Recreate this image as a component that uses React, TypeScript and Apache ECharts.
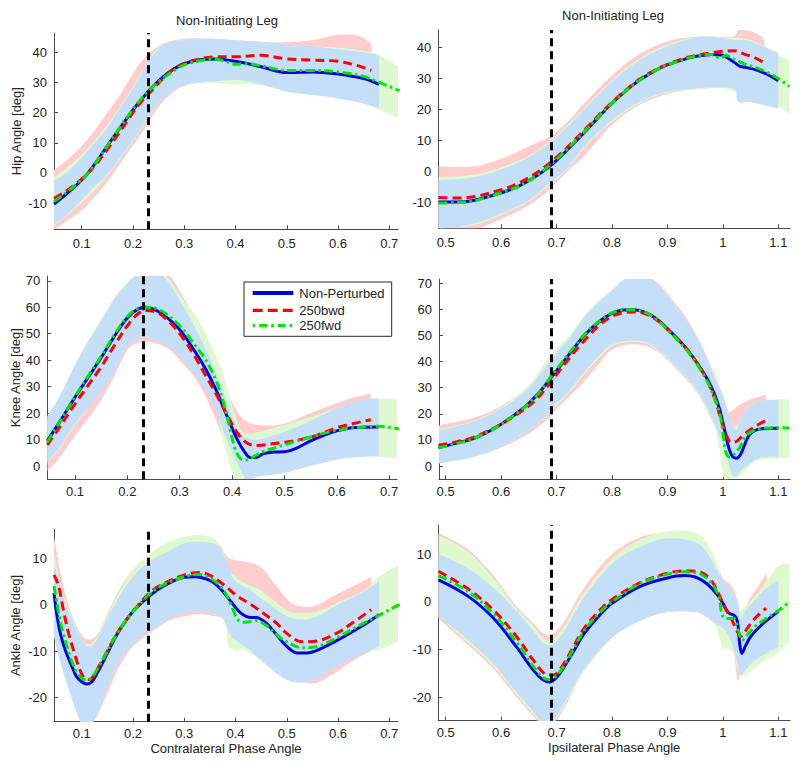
import React, { useEffect, useRef } from "react";
import * as echarts from "echarts";

type Pt = [number, number];
type Band = [number, number, number]; // [phase, lower, upper]

// ---------- tick labels ----------
const contraTicks = [0.1, 0.2, 0.3, 0.4, 0.5, 0.6, 0.7];
const ipsiTicks = [0.5, 0.6, 0.7, 0.8, 0.9, 1.0, 1.1];
const hipTicks = [-10, 0, 10, 20, 30, 40];
const kneeTicks = [0, 10, 20, 30, 40, 50, 60, 70];
const ankleTicks = [-20, -10, 0, 10];

const contraDivide = 0.235;
const ipsiDivide = 0.687;

const legendNames = ["Non-Perturbed", "250bwd", "250fwd"];

// ---------- Hip, contralateral ----------
const hipContraNP: Pt[] = [[0.046,-10.3],[0.07,-7],[0.09,-4],[0.11,-0.5],[0.13,4],[0.15,9],[0.17,13.8],[0.19,18.5],[0.21,23],[0.235,28],[0.26,32],[0.28,34.5],[0.3,36.2],[0.33,37.5],[0.36,37.8],[0.4,37],[0.45,35.2],[0.5,33.3],[0.55,33.5],[0.6,32.8],[0.65,31.3],[0.68,29.4]];
const hipContraBWD: Pt[] = [[0.046,-8.5],[0.07,-6],[0.09,-3.5],[0.11,-0.5],[0.13,3.3],[0.15,7.8],[0.17,12.5],[0.19,17.5],[0.21,22.3],[0.235,27],[0.26,31.5],[0.28,34.5],[0.3,36.3],[0.33,37.8],[0.36,38.5],[0.4,38.5],[0.45,39],[0.5,37.8],[0.55,37.4],[0.6,37],[0.64,35.5],[0.665,34]];
const hipContraFWD: Pt[] = [[0.046,-9.5],[0.07,-6.5],[0.09,-3.8],[0.11,-0.5],[0.13,4],[0.15,9],[0.17,14],[0.19,18.8],[0.21,23.3],[0.235,28],[0.26,31.5],[0.28,34],[0.3,35.8],[0.33,37.2],[0.36,37.8],[0.38,37],[0.4,36],[0.42,36.2],[0.45,35.5],[0.5,34],[0.55,34],[0.6,33.5],[0.65,32],[0.68,30],[0.72,27.3]];
const hipContraNPBand: Band[] = [[0.046,-17,-2.5],[0.07,-14,0],[0.1,-9,5],[0.125,-4.5,10],[0.15,-0.5,15],[0.175,5,21.5],[0.2,10.8,28],[0.22,16,34],[0.235,19.7,38],[0.26,25,42.5],[0.3,29,44],[0.35,30.2,44.5],[0.4,30.8,44],[0.45,29.5,43.5],[0.5,27,42.5],[0.55,25.8,42],[0.6,24.7,41],[0.65,23,40],[0.68,21.4,39]];
const hipContraBWDBand: Band[] = [[0.046,-19,1],[0.07,-16,4],[0.1,-12.5,9],[0.125,-8,14],[0.15,-3,20],[0.175,3,26],[0.2,9,33],[0.22,14,37.5],[0.235,18,40],[0.26,24,43],[0.3,29,44.5],[0.35,30.5,44.5],[0.4,31,44],[0.45,30,43.5],[0.5,28,43.3],[0.55,27,44],[0.6,26.5,45.8],[0.64,26,45.5],[0.665,26,43]];
const hipContraFWDBand: Band[] = [[0.046,-17.5,-1.5],[0.1,-10,6],[0.15,-1,16],[0.2,10.5,28.5],[0.235,19.5,38.5],[0.26,25,42.5],[0.3,29,44],[0.35,30,44],[0.38,29.5,43.5],[0.4,29.3,43],[0.45,29,43],[0.5,27,42.5],[0.55,26,42],[0.6,25,41.5],[0.65,23,40.5],[0.68,21,39],[0.72,18,35]];

// ---------- Hip, ipsilateral ----------
const hipIpsiNP: Pt[] = [[0.487,-10],[0.52,-10],[0.55,-9.5],[0.6,-7],[0.63,-5],[0.66,-2],[0.687,1.5],[0.7,3.5],[0.72,7],[0.75,12.5],[0.78,18.3],[0.8,22],[0.83,26.8],[0.85,29.5],[0.88,32.8],[0.9,34.4],[0.93,36.2],[0.95,37.1],[0.98,37.8],[1.0,37.5],[1.01,36.5],[1.02,35.3],[1.03,34],[1.04,33.6],[1.06,32.8],[1.08,31.3],[1.1,29.3]];
const hipIpsiBWD: Pt[] = [[0.487,-8.5],[0.52,-8.7],[0.55,-8.3],[0.6,-6],[0.63,-4],[0.66,-1],[0.687,2.5],[0.7,4.5],[0.72,7.8],[0.75,13.3],[0.78,18.8],[0.8,22.3],[0.83,27],[0.85,29.8],[0.88,33],[0.9,34.6],[0.93,36.5],[0.95,37.4],[0.98,38.3],[1.0,38.8],[1.02,39],[1.04,37.8],[1.06,36.5],[1.075,35]];
const hipIpsiFWD: Pt[] = [[0.487,-10.3],[0.52,-10.2],[0.55,-9.6],[0.6,-7],[0.63,-5],[0.66,-2],[0.687,1.8],[0.7,3.8],[0.72,7.3],[0.75,12.8],[0.78,18.4],[0.8,22],[0.83,26.8],[0.85,29.5],[0.88,32.8],[0.9,34.4],[0.93,36.2],[0.95,37.2],[0.98,37.8],[0.995,36.5],[1.005,37.5],[1.02,36.3],[1.04,34.6],[1.06,33.5],[1.08,32],[1.1,30],[1.12,27.4]];
const hipIpsiNPBand: Band[] = [[0.487,-19,-3],[0.55,-17,-2],[0.6,-13.7,0.5],[0.65,-9.4,4.5],[0.687,-4,9],[0.72,1,14.5],[0.75,8,20],[0.8,16.6,29],[0.85,22.5,36],[0.9,25.7,40.5],[0.95,26.8,43.3],[0.98,27,43.5],[1.0,27,43],[1.022,26.3,42.5],[1.027,22.5,42.5],[1.05,22.3,42],[1.1,20.3,38.3]];
const hipIpsiBWDBand: Band[] = [[0.487,-20,1.5],[0.55,-19,1.5],[0.6,-15.5,4],[0.65,-11,8],[0.687,-6,11.2],[0.72,0,16],[0.75,5,22],[0.8,15,31],[0.85,21.5,38],[0.9,25,42],[0.95,26.5,43.5],[1.0,27,43.5],[1.02,27,43.7],[1.03,27,45.8],[1.05,27,45.3],[1.07,27,43.5],[1.075,27,42]];
const hipIpsiFWDBand: Band[] = [[0.487,-18.5,-2],[0.55,-17.5,-1.2],[0.6,-14.2,1.2],[0.65,-9.8,5],[0.687,-4.5,9.5],[0.72,0.5,15],[0.75,7.5,20.5],[0.8,16,29.5],[0.85,22,36.5],[0.9,25.5,41],[0.95,26.5,43.3],[1.0,26.8,43.3],[1.05,24,42.5],[1.1,21,37.5],[1.12,18.5,35.8]];

// ---------- Knee, contralateral ----------
const kneeContraNP: Pt[] = [[0.047,9.5],[0.07,16.5],[0.1,26],[0.125,33.5],[0.15,41],[0.175,49],[0.2,56],[0.22,59.3],[0.235,60],[0.25,59.3],[0.27,57],[0.3,51.5],[0.33,43],[0.35,36.5],[0.37,28.5],[0.39,19],[0.41,10],[0.425,5],[0.435,3.2],[0.445,3.2],[0.46,4.7],[0.48,5.3],[0.5,5.4],[0.52,6.5],[0.55,9.5],[0.58,12],[0.6,13.3],[0.63,14.5],[0.68,14.8]];
const kneeContraBWD: Pt[] = [[0.047,8],[0.07,14.5],[0.1,23.5],[0.125,30.5],[0.15,37.5],[0.175,45.5],[0.2,53],[0.22,57.5],[0.235,58.8],[0.25,58.5],[0.27,56.3],[0.3,50],[0.33,41],[0.35,34],[0.37,27],[0.39,19.5],[0.41,12.5],[0.43,8.5],[0.45,7.8],[0.48,8.5],[0.5,9],[0.53,10],[0.56,11.5],[0.6,14.5],[0.63,16],[0.665,17.5]];
const kneeContraFWD: Pt[] = [[0.047,9],[0.07,16.5],[0.1,26.3],[0.125,34],[0.15,41.5],[0.175,49.5],[0.2,56.5],[0.22,59.5],[0.235,60],[0.25,59.8],[0.27,58],[0.3,53],[0.33,45.5],[0.35,40],[0.37,32],[0.385,23],[0.395,15],[0.405,7],[0.415,3],[0.425,2.2],[0.44,3.5],[0.46,5.5],[0.5,8],[0.55,11],[0.6,13.5],[0.65,14.8],[0.68,15],[0.72,14]];
const kneeContraNPBand: Band[] = [[0.047,1.5,18.5],[0.07,7,26],[0.1,16,38],[0.125,22,47],[0.15,28,55],[0.175,36,63],[0.2,45,69],[0.22,48,72.5],[0.235,48.5,73],[0.26,47,73],[0.28,45,69],[0.3,41.5,62.7],[0.33,34,52],[0.35,28.5,44],[0.37,21,35],[0.38,15,30],[0.39,10,24],[0.4,5,19],[0.41,1,14.5],[0.42,-3,11.5],[0.43,-5.5,10.5],[0.45,-4,10],[0.5,-2.5,13],[0.55,0,17],[0.6,2.5,22],[0.65,3.5,25],[0.68,3.8,25.5]];
const kneeContraBWDBand: Band[] = [[0.047,-2,18],[0.07,3,25],[0.1,11.5,36],[0.125,18,45],[0.15,25,53],[0.175,34,61],[0.2,43.8,68],[0.22,46.5,72],[0.235,47,73],[0.26,46,73],[0.28,44,72],[0.3,40,66],[0.33,33,55],[0.35,26,42],[0.37,17,35],[0.383,10,28.7],[0.4,5,24],[0.42,1,18],[0.45,-1,15.5],[0.5,-1,16],[0.55,0.5,20],[0.6,2.5,23.7],[0.63,3.5,25.8],[0.665,4,27.4]];
const kneeContraFWDBand: Band[] = [[0.047,1,19],[0.07,6.5,26.5],[0.1,15.5,38.5],[0.125,22,47.5],[0.15,28.5,55.5],[0.175,36.5,63.5],[0.2,45.5,69.5],[0.22,48.5,72.5],[0.235,49,73],[0.26,48,73],[0.28,46,70.5],[0.3,43,64.5],[0.33,37,57],[0.35,31,49.5],[0.37,23,41],[0.38,12,36],[0.4,-2,23],[0.41,-5.5,17],[0.42,-5.5,13],[0.44,-3,12.5],[0.5,-1,15.5],[0.55,1,18.5],[0.6,3,22],[0.65,3.5,25],[0.68,3.5,25.5],[0.72,3,25]];

// ---------- Knee, ipsilateral ----------
const kneeIpsiNP: Pt[] = [[0.487,7],[0.52,8.8],[0.55,10.5],[0.58,13.5],[0.6,16],[0.63,20.5],[0.65,24],[0.67,28.5],[0.687,33],[0.7,36.5],[0.72,42],[0.75,50],[0.78,55.8],[0.8,58.4],[0.82,59.7],[0.84,59.8],[0.86,58.8],[0.88,56.4],[0.9,52.6],[0.93,46],[0.95,40.5],[0.97,34],[0.985,27.5],[0.995,21],[1.005,12],[1.012,6],[1.018,3.5],[1.025,3],[1.032,4.5],[1.038,7.5],[1.045,11],[1.055,13.3],[1.07,14.3],[1.1,14.5]];
const kneeIpsiBWD: Pt[] = [[0.487,8],[0.52,9.3],[0.55,11],[0.58,13.8],[0.6,16],[0.63,20],[0.65,23],[0.67,27],[0.687,31.5],[0.7,35],[0.72,40.5],[0.75,48],[0.78,54.5],[0.8,57.3],[0.82,58.7],[0.84,59],[0.86,58.3],[0.88,56],[0.9,52.3],[0.93,46],[0.95,40.5],[0.97,33.5],[0.985,26],[0.995,19],[1.005,12.5],[1.015,9],[1.025,9.5],[1.035,11.5],[1.05,14],[1.065,16],[1.078,17.5]];
const kneeIpsiFWD: Pt[] = [[0.487,7],[0.52,8.6],[0.55,10.5],[0.58,13.5],[0.6,16],[0.63,20.5],[0.65,24],[0.67,28.5],[0.687,33.5],[0.7,37],[0.72,42.5],[0.75,50.3],[0.78,56],[0.8,58.6],[0.82,59.8],[0.84,59.8],[0.86,58.8],[0.88,56.2],[0.9,52.3],[0.93,45.5],[0.95,40],[0.97,33],[0.985,26],[0.995,19.5],[1.0,13],[1.005,5.5],[1.012,3.5],[1.02,4.5],[1.03,7],[1.04,11],[1.05,13],[1.07,14.3],[1.1,14.7],[1.12,14.5]];
const kneeIpsiNPBand: Band[] = [[0.487,1,13.7],[0.55,3.5,17],[0.6,7.5,22],[0.65,13.5,30],[0.687,20.5,40],[0.7,24,43.5],[0.72,28,48],[0.75,36,57],[0.78,43,63.5],[0.8,46.5,67],[0.83,48,72.5],[0.86,47.5,73],[0.88,45,70],[0.9,41.5,65],[0.93,35,57],[0.95,30,50.5],[0.97,23,42],[0.985,16,34],[1.0,8,27],[1.01,1,20],[1.018,-3.5,15],[1.025,-4,14],[1.03,-2.5,17],[1.04,-0.5,21],[1.06,2.5,24.5],[1.08,3.5,25.3],[1.1,3.5,25.3]];
const kneeIpsiBWDBand: Band[] = [[0.487,1.5,15.6],[0.55,3.5,18.5],[0.6,7,23],[0.65,12.5,30.5],[0.687,18.5,39.5],[0.7,22,43],[0.72,26,47.5],[0.75,32.5,56],[0.78,40,63.5],[0.8,44.5,67.5],[0.83,46.5,72.5],[0.86,46,73],[0.88,44,70.5],[0.9,40.5,66],[0.93,34,58],[0.95,29,51],[0.97,22,42.5],[0.985,15,35],[1.0,8,27],[1.01,5,21],[1.017,4,21.3],[1.03,5.5,23.5],[1.05,7.5,25.5],[1.065,8,26.5],[1.078,8,27.3]];
const kneeIpsiFWDBand: Band[] = [[0.487,1,14],[0.55,3.5,17.3],[0.6,7.5,22.5],[0.65,13.5,31],[0.687,20.5,42],[0.72,27.5,49],[0.75,35,57.5],[0.78,42,64],[0.8,46,67.5],[0.83,47.5,72],[0.86,47,72.5],[0.88,44.5,70],[0.9,41,65],[0.93,34.5,57],[0.95,29.5,50.5],[0.97,22.5,42],[0.985,15,34],[0.995,5,28],[1.002,-5,24],[1.01,-5,19],[1.018,-4.5,15],[1.03,-4,17],[1.04,-2,21],[1.06,2,24.5],[1.1,3,25.5],[1.12,3.2,25.5]];

// ---------- Ankle, contralateral ----------
const ankleContraNP: Pt[] = [[0.046,2.5],[0.05,-1],[0.058,-6],[0.068,-9.8],[0.081,-13.3],[0.09,-15.5],[0.1,-16.6],[0.11,-17.1],[0.12,-16.6],[0.13,-14.8],[0.15,-10.5],[0.17,-6.2],[0.2,-1.5],[0.235,2.1],[0.26,4],[0.3,5.9],[0.32,6],[0.35,5.2],[0.37,3.5],[0.39,0.8],[0.41,-1.8],[0.43,-2.8],[0.44,-2.8],[0.46,-4],[0.48,-6.5],[0.5,-9],[0.52,-10.4],[0.54,-10.4],[0.56,-9.8],[0.6,-7.6],[0.65,-4.4],[0.68,-2.2]];
const ankleContraBWD: Pt[] = [[0.046,6.4],[0.055,4],[0.064,-1],[0.074,-6],[0.084,-9.8],[0.094,-13.3],[0.103,-15.5],[0.112,-16.2],[0.12,-15.8],[0.13,-14],[0.15,-10],[0.17,-6],[0.2,-1.5],[0.235,2.8],[0.26,4.5],[0.3,6.4],[0.33,6.9],[0.35,6.3],[0.38,4],[0.4,2.1],[0.43,0],[0.45,-1.5],[0.48,-4],[0.5,-6.2],[0.53,-8],[0.56,-7.8],[0.6,-6],[0.63,-3.8],[0.665,-1.1]];
const ankleContraFWD: Pt[] = [[0.046,4],[0.052,0],[0.06,-4.5],[0.07,-8.5],[0.08,-12],[0.09,-14.5],[0.1,-15.8],[0.11,-16.3],[0.12,-15.6],[0.13,-14],[0.15,-10],[0.17,-6],[0.2,-1.5],[0.235,2.5],[0.26,4.3],[0.3,6],[0.33,6.5],[0.36,5],[0.38,2.5],[0.395,-1],[0.405,-3.3],[0.42,-3.8],[0.44,-3.5],[0.46,-4.5],[0.48,-6.5],[0.5,-8],[0.53,-9.3],[0.56,-9],[0.6,-7],[0.65,-4],[0.68,-2.3],[0.72,0]];
const ankleContraNPBand: Band[] = [[0.046,-7,9],[0.06,-13,3],[0.08,-20,-3],[0.1,-25.5,-7.5],[0.115,-26,-9],[0.13,-23.5,-7.5],[0.15,-17.5,-3],[0.175,-12,2],[0.2,-8.5,6],[0.235,-5.5,9.5],[0.27,-3,11.5],[0.3,-1.8,13.2],[0.33,-1.5,13.5],[0.36,-2,13],[0.375,-3,11.5],[0.39,-6.5,7],[0.4,-7.6,5],[0.43,-10,3],[0.46,-13,0.5],[0.5,-16.2,-2.5],[0.53,-16.8,-3.2],[0.56,-16,-2.5],[0.6,-13,0],[0.65,-10.5,2.8],[0.68,-9,5]];
const ankleContraBWDBand: Band[] = [[0.046,-4,14.5],[0.06,-10,6],[0.08,-18,-2],[0.1,-24,-6.5],[0.115,-26,-7.5],[0.13,-24,-6.5],[0.15,-19,-2],[0.175,-13,3.5],[0.2,-9,7.5],[0.235,-6,11],[0.27,-3.5,12.5],[0.3,-2.5,13],[0.33,-2,12.5],[0.36,-2.5,12],[0.38,-3,11],[0.39,-5,9.8],[0.42,-7.5,9.2],[0.45,-10.5,8],[0.48,-13.5,4],[0.51,-15.5,0.3],[0.55,-17,-0.4],[0.59,-15,1.8],[0.63,-12,4],[0.665,-10,6]];
const ankleContraFWDBand: Band[] = [[0.046,-6,11],[0.06,-12,3.5],[0.08,-19.5,-2.5],[0.1,-26,-7.5],[0.115,-26,-8.5],[0.13,-23,-7],[0.15,-17,-2.5],[0.175,-11.5,3],[0.2,-8,7.5],[0.235,-5,11],[0.27,-2.5,13.5],[0.3,-1.5,14.5],[0.33,-1.5,15],[0.36,-2,14],[0.38,-3,11],[0.385,-8.5,8],[0.4,-9.8,6],[0.42,-9.8,4.5],[0.45,-12,3],[0.5,-16,-1.2],[0.53,-16.5,-1.8],[0.56,-15.5,-1.5],[0.6,-12.5,0.5],[0.65,-10,3],[0.68,-9.7,6],[0.72,-7.6,8.6]];

// ---------- Ankle, ipsilateral ----------
const ankleIpsiNP: Pt[] = [[0.487,4.6],[0.54,1.2],[0.586,-3.4],[0.628,-9.5],[0.658,-14.3],[0.675,-16.3],[0.687,-16.8],[0.697,-16.2],[0.71,-14.3],[0.73,-10.5],[0.75,-6.6],[0.78,-2.5],[0.8,-0.3],[0.85,3.2],[0.9,5],[0.93,5.5],[0.95,5.2],[0.97,3.9],[0.99,1.5],[1.0,-0.3],[1.01,-2.3],[1.02,-2.8],[1.026,-4],[1.03,-8.5],[1.034,-10.8],[1.04,-9.4],[1.05,-7.3],[1.07,-4.8],[1.1,-2]];
const ankleIpsiBWD: Pt[] = [[0.487,6.4],[0.538,2.9],[0.586,-1.7],[0.628,-7.3],[0.658,-12.2],[0.682,-15.2],[0.695,-15.3],[0.71,-13.5],[0.73,-9.5],[0.75,-5.5],[0.78,-1.5],[0.8,0.5],[0.85,4],[0.9,6],[0.93,6.5],[0.96,6.2],[0.98,4.3],[0.995,1],[1.005,-1.5],[1.015,-3.5],[1.025,-6],[1.032,-7.2],[1.04,-6.2],[1.055,-3.8],[1.078,-1.3]];
const ankleIpsiFWD: Pt[] = [[0.487,5.5],[0.54,2.2],[0.586,-2.5],[0.628,-8.5],[0.658,-13.5],[0.675,-15.8],[0.687,-16.3],[0.697,-15.8],[0.71,-14],[0.73,-10],[0.75,-6],[0.78,-2],[0.8,0],[0.85,3.8],[0.9,5.8],[0.93,6.3],[0.96,5.8],[0.98,3.8],[0.993,1],[0.998,-2.5],[1.005,-3.5],[1.02,-3.5],[1.028,-6],[1.035,-8],[1.045,-6.8],[1.06,-5],[1.08,-3.3],[1.1,-1.8],[1.12,0]];
const ankleIpsiNPBand: Band[] = [[0.487,-3,10],[0.54,-8,7],[0.586,-13,3],[0.628,-19,-2],[0.658,-23,-6],[0.675,-25.5,-8.5],[0.69,-25.5,-9],[0.705,-23,-7.5],[0.72,-20,-5],[0.75,-14,1],[0.8,-7.5,8],[0.85,-4,11.5],[0.9,-2,13.3],[0.95,-2,12.5],[0.97,-3,10.5],[0.985,-4.5,7.5],[1.0,-5.5,4.5],[1.01,-7,3],[1.02,-10,1.5],[1.026,-13,0],[1.032,-15.5,-3.5],[1.04,-14.3,-2],[1.055,-12.5,0],[1.075,-11,2.5],[1.1,-9.4,4.6]];
const ankleIpsiBWDBand: Band[] = [[0.487,-3.5,14.5],[0.54,-9,11],[0.586,-14,5.5],[0.628,-20,-1],[0.658,-24,-4.5],[0.675,-26,-6.5],[0.69,-26,-7],[0.705,-24,-5.5],[0.72,-21,-3],[0.75,-14.5,3],[0.8,-7.5,10],[0.85,-4,13.5],[0.9,-2.2,14.5],[0.95,-2.2,14],[0.97,-3.2,12],[0.985,-4.5,9],[1.0,-6,5],[1.012,-8,3.8],[1.02,-11,2.5],[1.027,-16.5,0],[1.034,-13.5,-2.4],[1.05,-11,1],[1.065,-9.5,3.5],[1.079,-8,6]];
const ankleIpsiFWDBand: Band[] = [[0.487,-3,14],[0.54,-8.5,10.5],[0.586,-13.5,5],[0.628,-19.5,-1.5],[0.658,-23.5,-5],[0.675,-25.5,-7.5],[0.69,-25.5,-8],[0.705,-23.5,-6.5],[0.72,-20.5,-4],[0.75,-14.5,2],[0.8,-7.5,9],[0.85,-4,13],[0.9,-2,14.8],[0.95,-2,14.5],[0.97,-3,12.5],[0.985,-4.5,9],[0.995,-8,6],[1.0,-9.8,3],[1.01,-9.8,0.5],[1.02,-11,-0.5],[1.028,-14.5,-2],[1.04,-15.5,-1],[1.06,-13.5,1.5],[1.08,-12,4.5],[1.1,-10.5,7.5],[1.12,-8,8]];

// ---------- styling ----------
const FONT = '"Liberation Sans", Arial, Helvetica, sans-serif';
const TXT = "#222222";
const AXIS = "#4a4a4a";
const LINE = { np: "#0000e0", bwd: "#ff0000", fwd: "#00e600" };
const BAND = { np: "#c6dff8", bwd: "#ffcdcd", fwd: "#def9cf" };
const DASH_BWD = [9, 5];
const DASH_FWD = [9, 3.5, 2.5, 3.5];
const SMOOTH = 0.35;

// smooth curve through screen points (rendering only, keeps x monotone)
function curveThrough(ctx: any, pts: number[][]) {
  const n = pts.length;
  const s = 0.17;
  for (let i = 0; i < n - 1; i++) {
    const p0 = pts[Math.max(i - 1, 0)];
    const p1 = pts[i];
    const p2 = pts[i + 1];
    const p3 = pts[Math.min(i + 2, n - 1)];
    let c1x = p1[0] + (p2[0] - p0[0]) * s;
    let c1y = p1[1] + (p2[1] - p0[1]) * s;
    let c2x = p2[0] - (p3[0] - p1[0]) * s;
    let c2y = p2[1] - (p3[1] - p1[1]) * s;
    const lo = Math.min(p1[0], p2[0]);
    const hi = Math.max(p1[0], p2[0]);
    c1x = Math.min(Math.max(c1x, lo), hi);
    c2x = Math.min(Math.max(c2x, lo), hi);
    ctx.bezierCurveTo(c1x, c1y, c2x, c2y, p2[0], p2[1]);
  }
}

const BandShape = echarts.graphic.extendShape({
  shape: { upper: [] as number[][], lower: [] as number[][] },
  buildPath(ctx: any, shape: any) {
    const up = shape.upper;
    const lo = shape.lower;
    if (!up || up.length < 2) return;
    ctx.moveTo(up[0][0], up[0][1]);
    curveThrough(ctx, up);
    const rev = lo.slice().reverse();
    ctx.lineTo(rev[0][0], rev[0][1]);
    curveThrough(ctx, rev);
    ctx.closePath();
  },
});
echarts.graphic.registerShape("sdBand", BandShape);

const panels = [
  { grid: { left: 54, top: 33, width: 344, height: 196.3 }, x: [0.046, 0.717], y: [-18.7, 46.4], xTicks: contraTicks, yTicks: hipTicks, yName: "Hip Angle [deg]", yNameGap: 31, xName: "", xMargin: 8, divide: contraDivide, np: hipContraNP, bwd: hipContraBWD, fwd: hipContraFWD, npBand: hipContraNPBand, bwdBand: hipContraBWDBand, fwdBand: hipContraFWDBand },
  { grid: { left: 438.3, top: 30, width: 351.7, height: 198.3 }, x: [0.4867, 1.121], y: [-18.5, 45.7], xTicks: ipsiTicks, yTicks: hipTicks, yName: "", yNameGap: 30, xName: "", xMargin: 8, divide: ipsiDivide, np: hipIpsiNP, bwd: hipIpsiBWD, fwd: hipIpsiFWD, npBand: hipIpsiNPBand, bwdBand: hipIpsiBWDBand, fwdBand: hipIpsiFWDBand },
  { grid: { left: 47.3, top: 276, width: 349.7, height: 203.3 }, x: [0.047, 0.715], y: [-5, 71.8], xTicks: contraTicks, yTicks: kneeTicks, yName: "Knee Angle [deg]", yNameGap: 25, xName: "", xMargin: 6, divide: contraDivide, np: kneeContraNP, bwd: kneeContraBWD, fwd: kneeContraFWD, npBand: kneeContraNPBand, bwdBand: kneeContraBWDBand, fwdBand: kneeContraFWDBand },
  { grid: { left: 439, top: 279, width: 351, height: 200.3 }, x: [0.488, 1.121], y: [-5.07, 71.6], xTicks: ipsiTicks, yTicks: kneeTicks, yName: "", yNameGap: 30, xName: "", xMargin: 6, divide: ipsiDivide, np: kneeIpsiNP, bwd: kneeIpsiBWD, fwd: kneeIpsiFWD, npBand: kneeIpsiNPBand, bwdBand: kneeIpsiBWDBand, fwdBand: kneeIpsiFWDBand },
  { grid: { left: 54, top: 529.3, width: 344, height: 192.4 }, x: [0.046, 0.717], y: [-25.2, 16.2], xTicks: contraTicks, yTicks: ankleTicks, yName: "Ankle Angle [deg]", yNameGap: 32, xName: "Contralateral Phase Angle", xMargin: 5, divide: contraDivide, np: ankleContraNP, bwd: ankleContraBWD, fwd: ankleContraFWD, npBand: ankleContraNPBand, bwdBand: ankleContraBWDBand, fwdBand: ankleContraFWDBand },
  { grid: { left: 438.3, top: 525, width: 351.7, height: 195.7 }, x: [0.4867, 1.121], y: [-24.9, 16.1], xTicks: ipsiTicks, yTicks: ankleTicks, yName: "", yNameGap: 30, xName: "Ipsilateral Phase Angle", xMargin: 5, divide: ipsiDivide, np: ankleIpsiNP, bwd: ankleIpsiBWD, fwd: ankleIpsiFWD, npBand: ankleIpsiNPBand, bwdBand: ankleIpsiBWDBand, fwdBand: ankleIpsiFWDBand },
];

function bandSeries(band: Band[], color: string, idx: number) {
  return {
    type: "custom", xAxisIndex: idx, yAxisIndex: idx, coordinateSystem: "cartesian2d",
    data: [[band[0][0], band[0][1]]], clip: true, silent: true, z: 1,
    renderItem: (params: any, api: any) => {
      const upper = band.map((b) => api.coord([b[0], b[2]]));
      const lower = band.map((b) => api.coord([b[0], b[1]]));
      const cs = params.coordSys;
      return {
        type: "sdBand",
        shape: { upper, lower },
        style: { fill: color, stroke: null },
        clipPath: { type: "rect", shape: { x: cs.x, y: cs.y, width: cs.width, height: cs.height } },
      };
    },
  };
}

function buildOption() {
  const grid: any[] = [];
  const xAxis: any[] = [];
  const yAxis: any[] = [];
  const series: any[] = [];
  const txtStyle = { color: TXT, fontSize: 13, fontFamily: FONT };

  panels.forEach((p, i) => {
    grid.push({ ...p.grid, containLabel: false, outerBoundsMode: "none" });
    xAxis.push({
      gridIndex: i, type: "value", min: p.x[0], max: p.x[1],
      axisLine: { show: true, onZero: false, lineStyle: { color: AXIS, width: 1 } },
      axisTick: { show: true, inside: true, length: 4, customValues: p.xTicks, lineStyle: { color: AXIS } },
      axisLabel: { show: true, customValues: p.xTicks, margin: p.xMargin, ...txtStyle },
      splitLine: { show: false },
      name: p.xName, nameLocation: "middle", nameGap: 20, nameTextStyle: txtStyle,
    });
    yAxis.push({
      gridIndex: i, type: "value", min: p.y[0], max: p.y[1],
      axisLine: { show: true, onZero: false, lineStyle: { color: AXIS, width: 1 } },
      axisTick: { show: true, inside: true, length: 4, customValues: p.yTicks, lineStyle: { color: AXIS } },
      axisLabel: { show: true, customValues: p.yTicks, margin: 7, ...txtStyle },
      splitLine: { show: false },
      name: p.yName, nameLocation: "middle", nameGap: p.yNameGap, nameTextStyle: txtStyle,
    });

    series.push(bandSeries(p.bwdBand, BAND.bwd, i));
    series.push(bandSeries(p.fwdBand, BAND.fwd, i));
    series.push(bandSeries(p.npBand, BAND.np, i));

    series.push({
      name: legendNames[0], type: "line", xAxisIndex: i, yAxisIndex: i, data: p.np, symbol: "none",
      smooth: SMOOTH, lineStyle: { color: LINE.np, width: 3 }, silent: true, z: 2,
    });
    series.push({
      name: legendNames[1], type: "line", xAxisIndex: i, yAxisIndex: i, data: p.bwd, symbol: "none",
      smooth: SMOOTH, lineStyle: { color: LINE.bwd, width: 3, type: DASH_BWD }, silent: true, z: 2,
    });
    series.push({
      name: legendNames[2], type: "line", xAxisIndex: i, yAxisIndex: i, data: p.fwd, symbol: "none",
      smooth: SMOOTH, lineStyle: { color: LINE.fwd, width: 3, type: DASH_FWD }, silent: true, z: 2,
      markLine: {
        silent: true, symbol: ["none", "none"], label: { show: false },
        lineStyle: { color: "#000000", width: 3, type: [8, 5] },
        data: [{ xAxis: p.divide }],
      },
    });
  });

  const legendRows = [
    { name: legendNames[0], color: LINE.np, dash: null as number[] | null, y: 11 },
    { name: legendNames[1], color: LINE.bwd, dash: [10, 5], y: 28.3 },
    { name: legendNames[2], color: LINE.fwd, dash: [2.5, 4, 8, 4], y: 43.7 },
  ];

  const graphic: any[] = [
    {
      type: "text", x: 227, y: 20, z: 50,
      style: { text: "Non-Initiating Leg", fill: TXT, font: `13px ${FONT}`, align: "center", verticalAlign: "middle", textAlign: "center", textVerticalAlign: "middle" },
    },
    {
      type: "text", x: 613, y: 15, z: 50,
      style: { text: "Non-Initiating Leg", fill: TXT, font: `13px ${FONT}`, align: "center", verticalAlign: "middle", textAlign: "center", textVerticalAlign: "middle" },
    },
    {
      type: "group", x: 244, y: 282, z: 100,
      children: [
        { type: "rect", z: 100, shape: { x: 0, y: 0, width: 147.7, height: 54.3 }, style: { fill: "#ffffff", stroke: "#262626", lineWidth: 1 } },
        ...legendRows.flatMap((r) => [
          {
            type: "line", z: 101, shape: { x1: 8.7, y1: r.y, x2: 49.3, y2: r.y },
            style: { stroke: r.color, lineWidth: r.dash ? 3.3 : 4, lineDash: r.dash || undefined },
          },
          {
            type: "text", z: 101, x: 55.3, y: r.y,
            style: { text: r.name, fill: TXT, font: `13px ${FONT}`, align: "left", verticalAlign: "middle", textAlign: "left", textVerticalAlign: "middle" },
          },
        ]),
      ],
    },
  ];

  return {
    animation: false,
    backgroundColor: "#ffffff",
    grid, xAxis, yAxis, series, graphic,
  };
}

export default function App() {
  const ref = useRef<HTMLDivElement>(null);
  useEffect(() => {
    if (!ref.current) return;
    const chart = echarts.init(ref.current, undefined, { renderer: "svg" });
    chart.setOption(buildOption() as any);
    return () => chart.dispose();
  }, []);
  return (
    <div
      ref={ref}
      style={{ position: "absolute", left: 0, top: 0, width: 800, height: 766, background: "#fff" }}
    />
  );
}
